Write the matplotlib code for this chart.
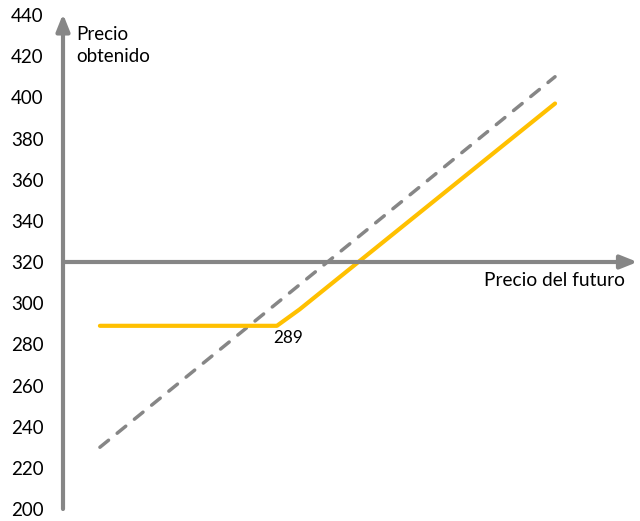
import matplotlib.pyplot as plt

# precio del futuro vs precio obtenido
futuro = [230, 410]
sin_cobertura = [230, 410]
fut_cobertura = [230, 300, 309, 410]
precio_cobertura = [289, 289, 297, 397]
y_ticks = [200, 220, 240, 260, 280, 300, 320, 340, 360, 380, 400, 420, 440]
suelo = 289

plt.rcParams['font.family'] = ['Lato', 'DejaVu Sans']
gris = '#868686'
amarillo = '#FFC000'

fig = plt.figure(figsize=(6.4, 5.21), dpi=100)
ax = fig.add_axes([63 / 640, 12 / 521, 577 / 640, 494 / 521])
ax.set_xlim(215.4, 443.6)
ax.set_ylim(200, 440)
ax.patch.set_alpha(0)
for s in ax.spines.values():
    s.set_visible(False)

# ejes con flecha
ax.annotate('', xy=(215.4, 440.5), xytext=(215.4, 200), annotation_clip=False,
            arrowprops=dict(arrowstyle='-|>,head_length=1.0,head_width=0.4',
                            color=gris, lw=3, shrinkA=0, shrinkB=0))
ax.annotate('', xy=(442.6, 320), xytext=(215.4, 320), annotation_clip=False,
            arrowprops=dict(arrowstyle='-|>,head_length=1.0,head_width=0.4',
                            color=gris, lw=3, shrinkA=0, shrinkB=0))

ax.plot(futuro, sin_cobertura, color=gris, lw=2.5, dashes=(3.2, 3.2),
        solid_capstyle='round', dash_capstyle='round')
ax.plot(fut_cobertura, precio_cobertura, color=amarillo, lw=3,
        solid_capstyle='round', solid_joinstyle='round')

ax.set_xticks([])
ax.set_yticks(y_ticks)
ax.tick_params(axis='y', length=0, pad=14, labelsize=13.5)

ax.text(220.7, 434.5, 'Precio\nobtenido', fontsize=13.5, va='top', ha='left',
        linespacing=1.3)
ax.text(437.5, 311, 'Precio del futuro', fontsize=13.8, va='center', ha='right')
ax.text(304.5, suelo - 6, str(suelo), fontsize=12.3, va='center', ha='center')

fig.savefig('out.png', dpi=100)
